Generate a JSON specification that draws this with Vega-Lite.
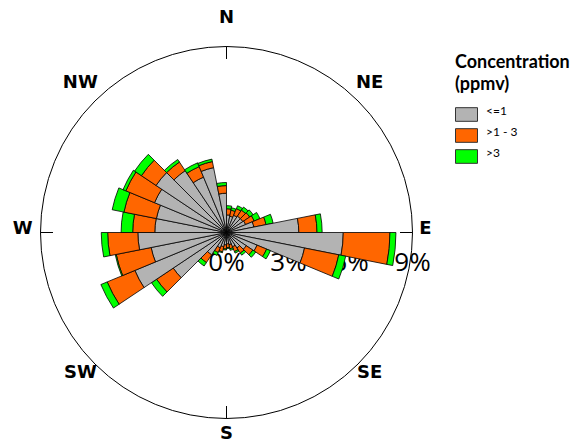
{
  "$schema": "https://vega.github.io/schema/vega-lite/v6.json",
  "width": 453,
  "height": 423,
  "autosize": "none",
  "padding": {"left": 0, "top": 21, "right": 121, "bottom": 0},
  "background": "white",
  "config": {"view": {"stroke": null}},
  "datasets": {
    "dirs": [
      {"lab": "N", "ang": 0}, {"lab": "NE", "ang": 45}, {"lab": "E", "ang": 90}, {"lab": "SE", "ang": 135},
      {"lab": "S", "ang": 180}, {"lab": "SW", "ang": 225}, {"lab": "W", "ang": 270}, {"lab": "NW", "ang": 315}
    ],
    "pct": [{"p": 0, "t": "0%"}, {"p": 3, "t": "3%"}, {"p": 6, "t": "6%"}, {"p": 9, "t": "9%"}],
    "rose": [
      {"dir": 5.625, "cat": "<=1", "v": 0.85}, {"dir": 5.625, "cat": ">1 - 3", "v": 0.3}, {"dir": 5.625, "cat": ">3", "v": 0.15},
      {"dir": 16.875, "cat": "<=1", "v": 0.8}, {"dir": 16.875, "cat": ">1 - 3", "v": 0.3}, {"dir": 16.875, "cat": ">3", "v": 0.12},
      {"dir": 28.125, "cat": "<=1", "v": 0.9}, {"dir": 28.125, "cat": ">1 - 3", "v": 0.35}, {"dir": 28.125, "cat": ">3", "v": 0.15},
      {"dir": 39.375, "cat": "<=1", "v": 0.95}, {"dir": 39.375, "cat": ">1 - 3", "v": 0.35}, {"dir": 39.375, "cat": ">3", "v": 0.18},
      {"dir": 50.625, "cat": "<=1", "v": 0.95}, {"dir": 50.625, "cat": ">1 - 3", "v": 0.4}, {"dir": 50.625, "cat": ">3", "v": 0.2},
      {"dir": 61.875, "cat": "<=1", "v": 1.0}, {"dir": 61.875, "cat": ">1 - 3", "v": 0.45}, {"dir": 61.875, "cat": ">3", "v": 0.3},
      {"dir": 73.125, "cat": "<=1", "v": 1.35}, {"dir": 73.125, "cat": ">1 - 3", "v": 0.6}, {"dir": 73.125, "cat": ">3", "v": 0.35},
      {"dir": 84.375, "cat": "<=1", "v": 3.5}, {"dir": 84.375, "cat": ">1 - 3", "v": 0.88}, {"dir": 84.375, "cat": ">3", "v": 0.25},
      {"dir": 95.625, "cat": "<=1", "v": 5.65}, {"dir": 95.625, "cat": ">1 - 3", "v": 2.26}, {"dir": 95.625, "cat": ">3", "v": 0.29},
      {"dir": 106.875, "cat": "<=1", "v": 3.85}, {"dir": 106.875, "cat": ">1 - 3", "v": 1.69}, {"dir": 106.875, "cat": ">3", "v": 0.34},
      {"dir": 118.125, "cat": "<=1", "v": 1.6}, {"dir": 118.125, "cat": ">1 - 3", "v": 0.5}, {"dir": 118.125, "cat": ">3", "v": 0.2},
      {"dir": 129.375, "cat": "<=1", "v": 1.15}, {"dir": 129.375, "cat": ">1 - 3", "v": 0.38}, {"dir": 129.375, "cat": ">3", "v": 0.17},
      {"dir": 140.625, "cat": "<=1", "v": 0.9}, {"dir": 140.625, "cat": ">1 - 3", "v": 0.3}, {"dir": 140.625, "cat": ">3", "v": 0.12},
      {"dir": 151.875, "cat": "<=1", "v": 0.75}, {"dir": 151.875, "cat": ">1 - 3", "v": 0.25}, {"dir": 151.875, "cat": ">3", "v": 0.08},
      {"dir": 163.125, "cat": "<=1", "v": 0.6}, {"dir": 163.125, "cat": ">1 - 3", "v": 0.2}, {"dir": 163.125, "cat": ">3", "v": 0.08},
      {"dir": 174.375, "cat": "<=1", "v": 0.55}, {"dir": 174.375, "cat": ">1 - 3", "v": 0.18}, {"dir": 174.375, "cat": ">3", "v": 0.05},
      {"dir": 185.625, "cat": "<=1", "v": 0.6}, {"dir": 185.625, "cat": ">1 - 3", "v": 0.2}, {"dir": 185.625, "cat": ">3", "v": 0.05},
      {"dir": 196.875, "cat": "<=1", "v": 0.7}, {"dir": 196.875, "cat": ">1 - 3", "v": 0.25}, {"dir": 196.875, "cat": ">3", "v": 0.05},
      {"dir": 208.125, "cat": "<=1", "v": 0.8}, {"dir": 208.125, "cat": ">1 - 3", "v": 0.25}, {"dir": 208.125, "cat": ">3", "v": 0.15},
      {"dir": 219.375, "cat": "<=1", "v": 1.3}, {"dir": 219.375, "cat": ">1 - 3", "v": 0.45}, {"dir": 219.375, "cat": ">3", "v": 0.2},
      {"dir": 230.625, "cat": "<=1", "v": 3.1}, {"dir": 230.625, "cat": ">1 - 3", "v": 0.97}, {"dir": 230.625, "cat": ">3", "v": 0.3},
      {"dir": 241.875, "cat": "<=1", "v": 4.8}, {"dir": 241.875, "cat": ">1 - 3", "v": 1.45}, {"dir": 241.875, "cat": ">3", "v": 0.33},
      {"dir": 253.125, "cat": "<=1", "v": 3.72}, {"dir": 253.125, "cat": ">1 - 3", "v": 1.72}, {"dir": 253.125, "cat": ">3", "v": 0.05},
      {"dir": 264.375, "cat": "<=1", "v": 4.29}, {"dir": 264.375, "cat": ">1 - 3", "v": 1.46}, {"dir": 264.375, "cat": ">3", "v": 0.31},
      {"dir": 275.625, "cat": "<=1", "v": 3.47}, {"dir": 275.625, "cat": ">1 - 3", "v": 1.07}, {"dir": 275.625, "cat": ">3", "v": 0.56},
      {"dir": 286.875, "cat": "<=1", "v": 3.46}, {"dir": 286.875, "cat": ">1 - 3", "v": 1.6}, {"dir": 286.875, "cat": ">3", "v": 0.58},
      {"dir": 298.125, "cat": "<=1", "v": 3.77}, {"dir": 298.125, "cat": ">1 - 3", "v": 1.5}, {"dir": 298.125, "cat": ">3", "v": 0.15},
      {"dir": 309.375, "cat": "<=1", "v": 4.1}, {"dir": 309.375, "cat": ">1 - 3", "v": 0.85}, {"dir": 309.375, "cat": ">3", "v": 0.4},
      {"dir": 320.625, "cat": "<=1", "v": 3.6}, {"dir": 320.625, "cat": ">1 - 3", "v": 0.5}, {"dir": 320.625, "cat": ">3", "v": 0.15},
      {"dir": 331.875, "cat": "<=1", "v": 2.9}, {"dir": 331.875, "cat": ">1 - 3", "v": 0.55}, {"dir": 331.875, "cat": ">3", "v": 0.2},
      {"dir": 343.125, "cat": "<=1", "v": 3.2}, {"dir": 343.125, "cat": ">1 - 3", "v": 0.3}, {"dir": 343.125, "cat": ">3", "v": 0.12},
      {"dir": 354.375, "cat": "<=1", "v": 1.9}, {"dir": 354.375, "cat": ">1 - 3", "v": 0.37}, {"dir": 354.375, "cat": ">3", "v": 0.15}
    ]
  },
  "layer": [
    {
      "data": {"values": [{}]},
      "mark": {"type": "arc", "filled": false, "stroke": "black", "strokeWidth": 1},
      "encoding": {
        "theta": {"datum": 0, "type": "quantitative", "scale": {"type": "linear", "domain": [0, 360], "range": [0, 6.283185307179586], "zero": true, "nice": false}},
        "theta2": {"datum": 360},
        "radius": {"datum": 9, "type": "quantitative", "scale": {"type": "linear", "domain": [0, 9], "range": [0, 186], "zero": true, "nice": false}}
      }
    },
    {
      "data": {"name": "dirs"},
      "transform": [{"filter": "datum.ang % 90 == 0"}],
      "mark": {"type": "arc", "filled": false, "stroke": "black", "strokeWidth": 1},
      "encoding": {
        "theta": {"field": "ang", "type": "quantitative", "scale": {"type": "linear", "domain": [0, 360], "range": [0, 6.283185307179586], "zero": true, "nice": false}},
        "theta2": {"field": "ang"},
        "radius": {"datum": 9, "type": "quantitative", "scale": {"type": "linear", "domain": [0, 9], "range": [0, 186], "zero": true, "nice": false}},
        "radius2": {"datum": 8.4}
      }
    },
    {
      "data": {"name": "pct"},
      "mark": {"type": "text", "font": "Open Sans", "fontSize": 26, "color": "black", "align": "center", "baseline": "middle", "dy": 30},
      "encoding": {
        "theta": {"datum": 90, "type": "quantitative", "scale": {"type": "linear", "domain": [0, 360], "range": [0, 6.283185307179586], "zero": true, "nice": false}},
        "radius": {"field": "p", "type": "quantitative", "scale": {"type": "linear", "domain": [0, 9], "range": [0, 186], "zero": true, "nice": false}},
        "text": {"field": "t"}
      }
    },
    {
      "data": {"name": "dirs"},
      "transform": [{"filter": "datum.ang == 0"}],
      "mark": {"type": "text", "font": "DejaVu Sans", "fontSize": 18, "fontWeight": "bold", "color": "black", "align": "center", "baseline": "middle"},
      "encoding": {
        "theta": {"field": "ang", "type": "quantitative", "scale": {"type": "linear", "domain": [0, 360], "range": [0, 6.283185307179586], "zero": true, "nice": false}},
        "radius": {"datum": 10.38, "type": "quantitative", "scale": {"type": "linear", "domain": [0, 9], "range": [0, 186], "zero": true, "nice": false}},
        "text": {"field": "lab"}
      }
    },
    {
      "data": {"name": "dirs"},
      "transform": [{"filter": "datum.ang == 180"}],
      "mark": {"type": "text", "font": "DejaVu Sans", "fontSize": 18, "fontWeight": "bold", "color": "black", "align": "center", "baseline": "middle"},
      "encoding": {
        "theta": {"field": "ang", "type": "quantitative", "scale": {"type": "linear", "domain": [0, 360], "range": [0, 6.283185307179586], "zero": true, "nice": false}},
        "radius": {"datum": 9.74, "type": "quantitative", "scale": {"type": "linear", "domain": [0, 9], "range": [0, 186], "zero": true, "nice": false}},
        "text": {"field": "lab"}
      }
    },
    {
      "data": {"name": "dirs"},
      "transform": [{"filter": "datum.ang == 90 || datum.ang == 270"}],
      "mark": {"type": "text", "font": "DejaVu Sans", "fontSize": 18, "fontWeight": "bold", "color": "black", "align": "center", "baseline": "middle", "dx": -2.5, "dy": -3.5},
      "encoding": {
        "theta": {"field": "ang", "type": "quantitative", "scale": {"type": "linear", "domain": [0, 360], "range": [0, 6.283185307179586], "zero": true, "nice": false}},
        "radius": {"datum": 9.74, "type": "quantitative", "scale": {"type": "linear", "domain": [0, 9], "range": [0, 186], "zero": true, "nice": false}},
        "text": {"field": "lab"}
      }
    },
    {
      "data": {"name": "dirs"},
      "transform": [{"filter": "datum.ang % 90 != 0"}],
      "mark": {"type": "text", "font": "DejaVu Sans", "fontSize": 18, "fontWeight": "bold", "color": "black", "align": "center", "baseline": "middle", "dx": -1.5, "dy": -4.5},
      "encoding": {
        "theta": {"field": "ang", "type": "quantitative", "scale": {"type": "linear", "domain": [0, 360], "range": [0, 6.283185307179586], "zero": true, "nice": false}},
        "radius": {"datum": 9.9, "type": "quantitative", "scale": {"type": "linear", "domain": [0, 9], "range": [0, 186], "zero": true, "nice": false}},
        "text": {"field": "lab"}
      }
    },
    {
      "data": {"name": "rose"},
      "transform": [
        {"bin": {"step": 11.25, "extent": [0, 360], "nice": false}, "field": "dir", "as": ["a0", "a1"]},
        {"stack": "v", "groupby": ["dir"], "sort": [{"field": "cat", "order": "ascending"}], "as": ["r0", "r1"]}
      ],
      "mark": {"type": "arc", "stroke": "black", "strokeWidth": 0.8},
      "encoding": {
        "theta": {"field": "a0", "type": "quantitative", "scale": {"type": "linear", "domain": [0, 360], "range": [0, 6.283185307179586], "zero": true, "nice": false}},
        "theta2": {"field": "a1"},
        "radius": {"field": "r1", "type": "quantitative", "scale": {"type": "linear", "domain": [0, 9], "range": [0, 186], "zero": true, "nice": false}},
        "radius2": {"field": "r0"},
        "color": {
          "field": "cat", "type": "nominal",
          "scale": {"domain": ["<=1", ">1 - 3", ">3"], "range": ["#b3b3b3", "#ff6600", "#00ff00"]},
          "legend": {
            "orient": "none", "legendX": 455, "legendY": 33, "padding": 0,
            "title": ["Concentration", "(ppmv)"], "titleFont": "Lato", "titleFontSize": 18, "titleFontWeight": "bold",
            "titleColor": "black", "titleLineHeight": 22, "titlePadding": 9, "titleAnchor": "start",
            "labelFont": "Lato", "labelFontSize": 12, "labelColor": "black", "labelBaseline": "alphabetic", "labelOffset": 8,
            "symbolType": "M-1,-0.62L1,-0.62L1,0.62L-1,0.62Z", "symbolSize": 484,
            "symbolStrokeColor": "#333333", "symbolStrokeWidth": 1, "symbolOpacity": 1, "rowPadding": 0
          }
        }
      }
    }
  ]
}
